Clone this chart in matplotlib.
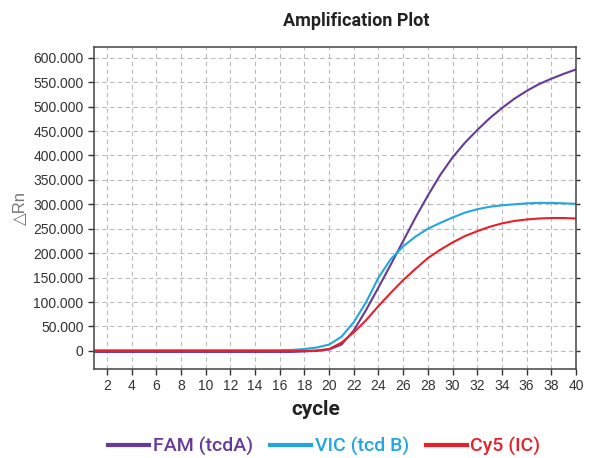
import numpy as np
import matplotlib
matplotlib.use("Agg")
import matplotlib.pyplot as plt
from matplotlib.ticker import FuncFormatter, MultipleLocator

cycles = list(range(1, 41))

# delta Rn values (in thousands)
fam = [-2, -2, -2, -2, -2, -2, -2, -2, -2, -2, -2, -2, -2, -2, -2, -2, -2, -1, 0, 3,
       13, 42, 84, 130, 177, 225, 273, 318, 360, 396, 426, 452, 476, 497, 516, 532, 546, 557, 567, 576]
vic = [1.5, 1.5, 1.5, 1.5, 1.5, 1.5, 1.5, 1.5, 1.5, 1.5, 1.5, 1.5, 1.5, 1.5, 1.5, 1.5, 2, 4, 7, 13,
       29, 59, 100, 150, 188, 214, 234, 250, 262, 273, 283, 290, 295, 298, 300, 302, 303, 303, 302, 301]
cy5 = [0, 0, 0, 0, 0, 0, 0, 0, 0, 0, 0, 0, 0, 0, 0, 0, 0, 0, 1, 4,
       17, 38, 63, 92, 119, 145, 168, 190, 207, 222, 235, 245, 254, 261, 266, 269, 271, 272, 272, 271]

labels = ['FAM (tcdA)', 'VIC (tcd B)', 'Cy5 (IC)']
colors = ['#663a98', '#22a6df', '#e8202a']

plt.rcParams['font.family'] = ['Liberation Sans', 'DejaVu Sans']

fig = plt.figure(figsize=(5.93, 4.58), dpi=100)
ax = fig.add_axes([0.1585, 0.1943, 0.8128, 0.7031])

for vals, col, lab in zip([fam, vic, cy5], colors, labels):
    ax.plot(cycles, np.array(vals) * 1000, color=col, lw=1.5, label=lab)

ax.set_xlim(0.95, 40)
ax.set_ylim(-37000, 622000)
ax.xaxis.set_major_locator(MultipleLocator(2))
ax.yaxis.set_major_locator(MultipleLocator(50000))


def fmt(v, pos):
    if abs(v) < 1:
        return '0'
    return f"{int(round(v)):,}".replace(',', '.')


ax.yaxis.set_major_formatter(FuncFormatter(fmt))
ax.grid(True, color='#bbbbbb', ls=(0, (4, 3)), lw=0.8)
ax.tick_params(labelsize=10, colors='#333333', length=4, width=1)
for s in ax.spines.values():
    s.set_color('#444444')
    s.set_linewidth(1.1)

sec = ax.secondary_yaxis('right')
sec.yaxis.set_major_locator(MultipleLocator(50000))
sec.tick_params(length=3, width=1, colors='#333333', labelright=False)
sec.spines['right'].set_visible(False)

ax.set_ylabel('△Rn', fontsize=12, color='#777777', labelpad=4)
fig.text(0.600, 0.954, 'Amplification Plot', ha='center', va='center',
         fontsize=13, fontweight='bold', color='#222222', family=['Roboto', 'DejaVu Sans'])
fig.text(0.533, 0.105, 'cycle', ha='center', va='center',
         fontsize=15, fontweight='bold', color='#222222', family=['Roboto', 'DejaVu Sans'])

leg = fig.legend(loc='center', bbox_to_anchor=(0.547, 0.026), ncol=3, frameon=False,
                 handlelength=2.1, handletextpad=0.2, columnspacing=0.87,
                 prop={'family': 'Roboto', 'size': 14, 'weight': 'medium'})
for line in leg.get_lines():
    line.set_linewidth(3)
for text, col in zip(leg.get_texts(), colors):
    text.set_color(col)

fig.savefig('out.png', dpi=100)
